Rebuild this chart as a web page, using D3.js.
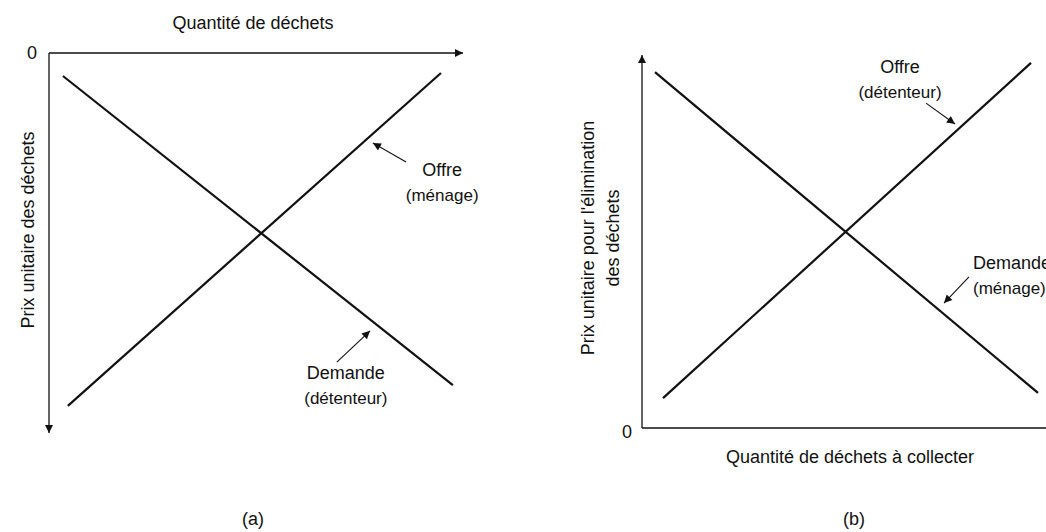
<!DOCTYPE html>
<html>
<head>
<meta charset="utf-8">
<script src="https://cdn.jsdelivr.net/npm/d3@7"></script>
<style>
  body { margin: 0; background: #fff; }
  svg { font-family: "Liberation Sans", Arial, sans-serif; }
  text { fill: #111; }
</style>
</head>
<body>
<svg id="chart" width="1046" height="532"></svg>
<script>
// Values in abstract units (0..100) for quantity (q) and unit price (p)
// Panel (a): price axis points downward
const curvesA = [
  { name: 'Demande', pts: [[3.4, 6.1], [98.5, 88.1]] },
  { name: 'Offre', pts: [[4.6, 93.6], [95.6, 5.3]] }
];
const notesA = [
  { lines: ['Offre', '(ménage)'], at: [95.9, 31.0], anchor: 'middle', from: [87.1, 28.9], to: [79.0, 23.9] },
  { lines: ['Demande', '(détenteur)'], at: [72.4, 84.9], anchor: 'middle', from: [70.2, 82.0], to: [78.3, 73.7] }
];
// Panel (b): classic orientation
const curvesB = [
  { name: 'Demande', pts: [[3.25, 95.4], [99, 9.4]] },
  { name: 'Offre', pts: [[5.25, 8.0], [97.25, 97.9]] }
];
const notesB = [
  { lines: ['Offre', '(détenteur)'], at: [64.5, 96.8], anchor: 'middle', from: [71, 87.1], to: [78.25, 81.5] },
  { lines: ['Demande', '(ménage)'], at: [82.75, 44.2], anchor: 'start', from: [81.75, 40.5], to: [75.5, 33.5] }
];
const axisTitles = {
  a: { x: 'Quantité de déchets', y: ['Prix unitaire des déchets'], tag: '(a)' },
  b: { x: 'Quantité de déchets à collecter', y: ['Prix unitaire pour l\'élimination', 'des déchets'], tag: '(b)' }
};

const svg = d3.select('#chart');

const defs = svg.append('defs');
function marker(id, w, h) {
  defs.append('marker')
    .attr('id', id)
    .attr('viewBox', '0 0 10 10')
    .attr('refX', 10).attr('refY', 5)
    .attr('markerUnits', 'userSpaceOnUse')
    .attr('markerWidth', w).attr('markerHeight', h)
    .attr('orient', 'auto')
    .append('path')
    .attr('d', 'M0,0 L10,5 L0,10 Z')
    .attr('fill', '#111');
}
marker('axisHead', 11, 8);
marker('noteHead', 10, 8);

const big = 18, small = 17;

function drawPanel(x, y, curves, notes) {
  const line = d3.line().x(d => x(d[0])).y(d => y(d[1]));
  svg.append('g').selectAll('path')
    .data(curves)
    .join('path')
    .attr('d', d => line(d.pts))
    .attr('fill', 'none')
    .attr('stroke', '#111')
    .attr('stroke-width', 2.2);

  const g = svg.append('g');
  notes.forEach(n => {
    g.append('line')
      .attr('x1', x(n.from[0])).attr('y1', y(n.from[1]))
      .attr('x2', x(n.to[0])).attr('y2', y(n.to[1]))
      .attr('stroke', '#111')
      .attr('stroke-width', 1.1)
      .attr('marker-end', 'url(#noteHead)');
    n.lines.forEach((t, i) => {
      g.append('text')
        .attr('x', x(n.at[0]))
        .attr('y', y(n.at[1]))
        .attr('dy', (i * 25 + 0.35 * (i ? small : big)) + 'px')
        .attr('text-anchor', n.anchor)
        .attr('font-size', i ? small : big)
        .text(t);
    });
  });
}

// ---- panel (a)
const xA = d3.scaleLinear().domain([0, 100]).range([49, 459]);
const yA = d3.scaleLinear().domain([0, 100]).range([53, 430]);

svg.append('line')
  .attr('x1', xA(0)).attr('y1', yA(0))
  .attr('x2', xA(0) + 414).attr('y2', yA(0))
  .attr('stroke', '#111').attr('stroke-width', 1.3)
  .attr('marker-end', 'url(#axisHead)');
svg.append('line')
  .attr('x1', xA(0)).attr('y1', yA(0))
  .attr('x2', xA(0)).attr('y2', yA(100) + 3)
  .attr('stroke', '#111').attr('stroke-width', 1.3)
  .attr('marker-end', 'url(#axisHead)');

svg.append('text').attr('x', 32).attr('y', yA(0) + 6).attr('text-anchor', 'middle')
  .attr('font-size', big).text('0');
svg.append('text').attr('x', 253).attr('y', 29).attr('text-anchor', 'middle')
  .attr('font-size', big).text(axisTitles.a.x);
svg.append('text')
  .attr('transform', `translate(${28 + 6},230) rotate(-90)`)
  .attr('text-anchor', 'middle')
  .attr('font-size', big).text(axisTitles.a.y[0]);
svg.append('text').attr('x', 253).attr('y', 525).attr('text-anchor', 'middle')
  .attr('font-size', big).text(axisTitles.a.tag);

drawPanel(xA, yA, curvesA, notesA);

// ---- panel (b)
const xB = d3.scaleLinear().domain([0, 100]).range([642, 1042]);
const yB = d3.scaleLinear().domain([0, 100]).range([428, 55]);

svg.append('line')
  .attr('x1', xB(0)).attr('y1', yB(0))
  .attr('x2', xB(0)).attr('y2', yB(100))
  .attr('stroke', '#111').attr('stroke-width', 1.3)
  .attr('marker-end', 'url(#axisHead)');
svg.append('line')
  .attr('x1', xB(0)).attr('y1', yB(0))
  .attr('x2', xB(100) + 20).attr('y2', yB(0))
  .attr('stroke', '#111').attr('stroke-width', 1.3)
  .attr('marker-end', 'url(#axisHead)');

svg.append('text').attr('x', 627).attr('y', yB(0) + 10).attr('text-anchor', 'middle')
  .attr('font-size', big).text('0');
svg.append('text').attr('x', 850).attr('y', 463).attr('text-anchor', 'middle')
  .attr('font-size', big).text(axisTitles.b.x);
axisTitles.b.y.forEach((t, i) => {
  svg.append('text')
    .attr('transform', `translate(${588 + 6 + i * 25},238) rotate(-90)`)
    .attr('text-anchor', 'middle')
    .attr('font-size', big).text(t);
});
svg.append('text').attr('x', 854).attr('y', 525).attr('text-anchor', 'middle')
  .attr('font-size', big).text(axisTitles.b.tag);

drawPanel(xB, yB, curvesB, notesB);
</script>
</body>
</html>
